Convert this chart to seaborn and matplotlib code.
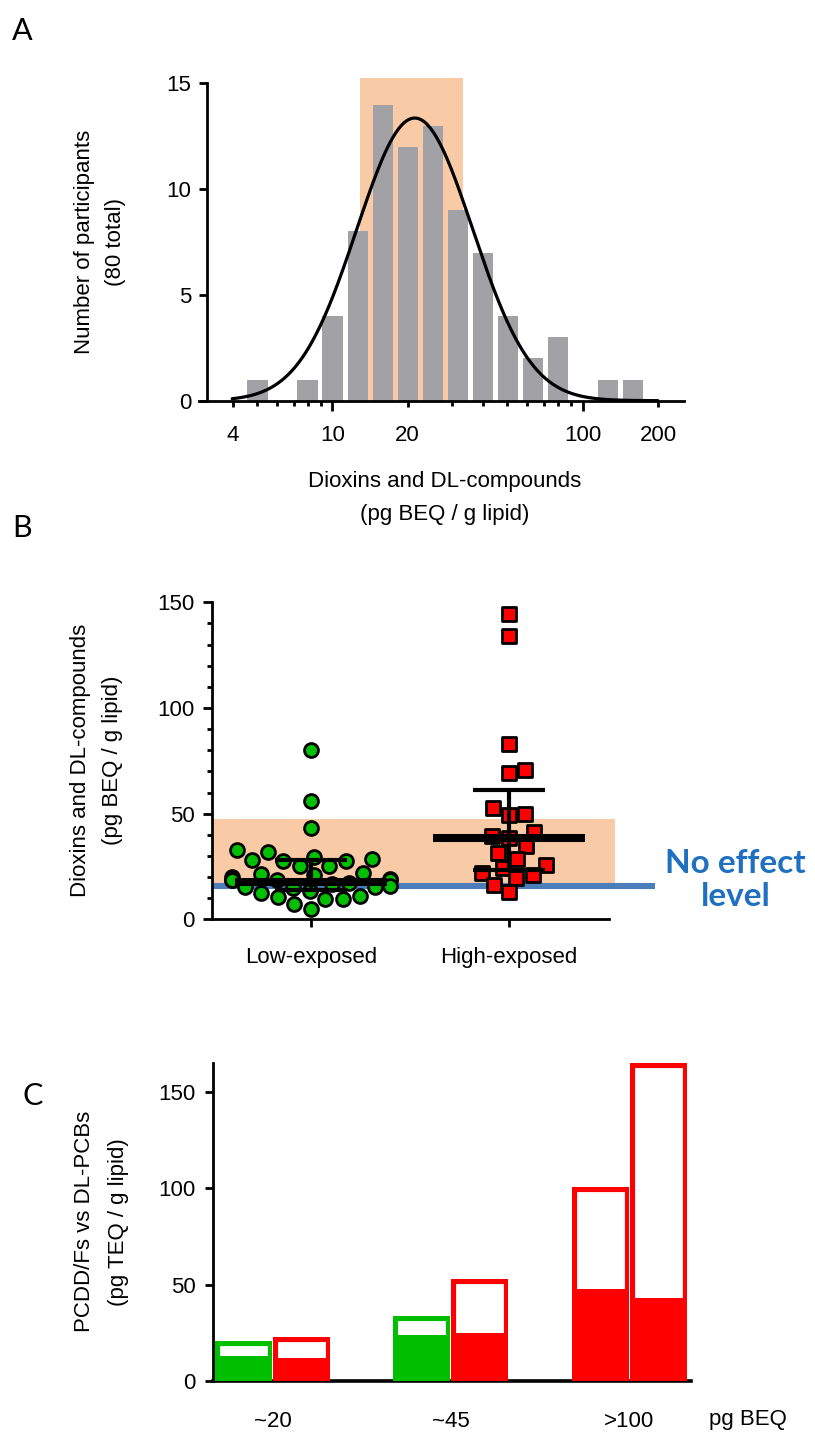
import numpy as np
import pandas as pd
import matplotlib
matplotlib.use("Agg")
import matplotlib.pyplot as plt
import seaborn as sns

# ---------------- data ----------------
# Panel A: histogram of log10 bin centres and counts
bin_centers_log = [0.7, 0.9, 1.0, 1.1, 1.2, 1.3, 1.4, 1.5, 1.6, 1.7, 1.8, 1.9, 2.1, 2.2]
participants = [1, 1, 4, 8, 14, 12, 13, 9, 7, 4, 2, 3, 1, 1]
a_tick_values = [4, 10, 20, 100, 200]
a_tick_labels = ["4", "10", "20", "100", "200"]
a_minor_values = [5, 6, 7, 8, 9, 30, 40, 50, 60, 70, 80, 90]
a_y_ticks = [0, 5, 10, 15]
a_shade_low, a_shade_high, a_shade_top = 12.9, 33.3, 15.26

# Panel B: individual values
groups = ["Low-exposed", "High-exposed"]
low_exposed = [80.0, 56.0, 43.4, 32.6, 32.0, 29.6, 28.7, 28.1, 27.6, 27.7, 25.2, 25.2,
               22.1, 21.3, 21.0, 19.9, 18.9, 18.6, 18.6, 18.6, 18.6, 17.2, 16.8, 15.6,
               15.4, 15.2, 15.0, 13.4, 12.3, 11.0, 10.4, 9.6, 9.6, 7.1, 4.9]
high_exposed = [144.5, 133.9, 83.1, 70.5, 69.2, 52.5, 50.0, 49.2, 41.5, 39.3, 38.3,
                34.7, 31.4, 28.4, 25.6, 24.1, 22.1, 21.0, 19.6, 16.4, 12.8]
b_center = [17.8, 38.5]
b_lower = [14.0, 23.3]
b_upper = [28.2, 61.0]
b_y_ticks = [0, 50, 100, 150]
b_band_low, b_band_high = 15.8, 47.3
no_effect_level = 15.8

# Panel C: stacked-outline bars
c_categories = ["~20", "~45", ">100"]
c_bar = ["first", "second"]
c_total_first = [20.5, 33.5, 100.5]
c_total_second = [22.5, 53.0, 165.0]
c_fill_first = [13.0, 24.0, 47.5]
c_fill_second = [12.0, 25.0, 43.0]
c_y_ticks = [0, 50, 100, 150]

# ---------------- style ----------------
GRAY = "#A2A1A6"
ORANGE = "#F8CBA6"
GREEN = "#00BF00"
RED = "#FF0000"
BLUE = "#4A7DBA"
TEXTBLUE = "#1F70C1"

sns.set_style("ticks")
plt.rcParams["font.family"] = ["Liberation Sans", "DejaVu Sans"]
plt.rcParams["axes.linewidth"] = 2.0
plt.rcParams["xtick.major.width"] = 2.0
plt.rcParams["ytick.major.width"] = 2.0
plt.rcParams["xtick.minor.width"] = 2.0
plt.rcParams["ytick.minor.width"] = 2.0
plt.rcParams["xtick.color"] = "black"
plt.rcParams["ytick.color"] = "black"
plt.rcParams["xtick.labelcolor"] = "black"
plt.rcParams["ytick.labelcolor"] = "black"
plt.rcParams["axes.edgecolor"] = "black"
plt.rcParams["axes.labelcolor"] = "black"
plt.rcParams["text.color"] = "black"

W, H = 815, 1433
FS = 16
fig = plt.figure(figsize=(W / 100, H / 100), dpi=100)


def ax_rect(left, right, top, bottom):
    return [left / W, 1 - bottom / H, (right - left) / W, (bottom - top) / H]


# ---------------- Panel A ----------------
axA = fig.add_axes(ax_rect(199.4, 684.4, 77.0, 400.7))
axA.fill_between([a_shade_low, a_shade_high], 0, a_shade_top, color=ORANGE, lw=0, zorder=0)
sns.histplot(x=10 ** np.array(bin_centers_log), weights=participants, binwidth=0.1,
             binrange=(0.65, 2.25), log_scale=True, shrink=0.81, color=GRAY, alpha=1,
             edgecolor="none", linewidth=0, ax=axA, zorder=2)
# Least-squares Gaussian fit of the histogram counts (in log10 space)
xc = np.array(bin_centers_log)
yc = np.array(participants, dtype=float)
a2, a1, a0 = np.polyfit(xc, np.log(yc), 2, w=yc)
p = np.array([np.exp(a0 - a1 ** 2 / (4 * a2)), -a1 / (2 * a2), np.sqrt(-1 / (2 * a2))])
for _ in range(100):
    amp, mu, sig = p
    e = np.exp(-(xc - mu) ** 2 / (2 * sig ** 2))
    r = yc - amp * e
    J = np.column_stack([e, amp * e * (xc - mu) / sig ** 2, amp * e * (xc - mu) ** 2 / sig ** 3])
    step = np.linalg.lstsq(J, r, rcond=None)[0]
    p = p + step
amp, mu, sig = p
xs = np.linspace(0.6, 2.3, 300)
ys = amp * np.exp(-(xs - mu) ** 2 / (2 * sig ** 2))
sns.lineplot(x=10 ** xs, y=ys, color="black", lw=2.3, ax=axA, zorder=3)

axA.set_xscale("log")
axA.set_xlim(10 ** 0.469, 10 ** 2.406)
axA.set_ylim(0, 15.3)
axA.spines["left"].set_position(("data", 10 ** 0.501))
axA.spines["left"].set_bounds(0, 15)
sns.despine(ax=axA)
axA.set_xticks(a_tick_values)
axA.set_xticklabels(a_tick_labels, fontsize=FS)
axA.set_xticks(a_minor_values, minor=True)
axA.xaxis.set_minor_formatter(matplotlib.ticker.NullFormatter())
axA.tick_params(axis="x", which="major", length=7.2, pad=10, direction="out")
axA.tick_params(axis="x", which="minor", length=3.6, direction="out")
for t, v in zip(axA.xaxis.get_major_ticks(), a_tick_values):
    if v not in (10, 100):
        t.tick1line.set_markersize(4.0)
axA.set_yticks(a_y_ticks)
axA.tick_params(axis="y", length=5.8, pad=6, labelsize=FS)
axA.set_xlabel("Dioxins and DL-compounds\n(pg BEQ / g lipid)", fontsize=FS, linespacing=1.75)
axA.xaxis.set_label_coords((445 - 199.4) / 485, -(471 - 400.7) / 323.7)
axA.set_ylabel("Number of participants\n(80 total)", fontsize=FS, linespacing=1.6)
axA.yaxis.set_label_coords(-(199.4 - 126) / 485, 0.49)

# ---------------- Panel B ----------------
axB = fig.add_axes(ax_rect(212.3, 609.3, 602.3, 919.3))
axB.fill_between([-0.5, 1.54], b_band_low, b_band_high, color=ORANGE, lw=0, zorder=0,
                 clip_on=False)
axB.plot([-0.5, 1.74], [no_effect_level, no_effect_level], color=BLUE, lw=4.4,
         clip_on=False, zorder=1, solid_capstyle="butt")
sns.swarmplot(x=["Low-exposed"] * len(low_exposed), y=low_exposed, order=groups,
              color=GREEN, marker="o", size=10, edgecolor="black", linewidth=2.0,
              ax=axB, zorder=3, clip_on=False)
sns.swarmplot(x=["High-exposed"] * len(high_exposed), y=high_exposed, order=groups,
              color=RED, marker="s", size=9.6, edgecolor="black", linewidth=2.0,
              ax=axB, zorder=3, clip_on=False)
cen = np.array(b_center)
axB.errorbar(x=[0, 1], y=cen, yerr=[cen - np.array(b_lower), np.array(b_upper) - cen],
             fmt="none", ecolor="black", elinewidth=3.0, capsize=26, capthick=3.0, zorder=5)
axB.errorbar(x=[0, 1], y=cen, xerr=0.385, fmt="none", ecolor="black", elinewidth=5.8,
             capsize=0, zorder=5)
axB.set_xlim(-0.5, 1.51)
axB.set_ylim(0, 150)
sns.despine(ax=axB)
axB.set_yticks(b_y_ticks)
axB.set_yticks(np.arange(0, 151, 10), minor=True)
axB.tick_params(axis="y", which="major", length=6.5, pad=6, labelsize=FS)
axB.tick_params(axis="y", which="minor", length=3.6)
axB.tick_params(axis="x", which="major", length=5.8, pad=14, labelsize=FS)
axB.set_xlabel("")
axB.set_ylabel("Dioxins and DL-compounds\n(pg BEQ / g lipid)", fontsize=FS, linespacing=1.7)
axB.yaxis.set_label_coords(-(212.3 - 123) / 397, 0.5)
axB.text(2.15, (b_band_low + 2.8), "No effect\nlevel", color=TEXTBLUE, fontsize=24,
         fontweight="bold", family=["Lato", "DejaVu Sans"], ha="center", va="center",
         linespacing=1.15, clip_on=False)

# ---------------- Panel C ----------------
axC = fig.add_axes(ax_rect(213.2, 691.0, 1062.7, 1380.7))
dfC = pd.DataFrame({
    "category": c_categories * 2,
    "bar": [c_bar[0]] * 3 + [c_bar[1]] * 3,
    "total": c_total_first + c_total_second,
    "fill": c_fill_first + c_fill_second,
})
bar_colors = [GREEN, RED, GREEN, RED, RED, RED]  # left-to-right
n0 = len(axC.patches)
sns.barplot(data=dfC, x="category", y="total", hue="bar", order=c_categories,
            hue_order=c_bar, width=0.65, gap=0.02, palette=["white", "white"],
            legend=False, ax=axC, zorder=2, err_kws={"linewidth": 0})
outline = sorted(axC.patches[n0:], key=lambda p: p.get_x())
for p_, col in zip(outline, bar_colors):
    p_.set_facecolor("white")
    p_.set_edgecolor(col)
    p_.set_linewidth(6.6)
    p_.set_clip_path(p_)
n1 = len(axC.patches)
sns.barplot(data=dfC, x="category", y="fill", hue="bar", order=c_categories,
            hue_order=c_bar, width=0.65, gap=0.02, palette=["white", "white"],
            legend=False, ax=axC, zorder=3, err_kws={"linewidth": 0})
fills = sorted(axC.patches[n1:], key=lambda p: p.get_x())
for p_, col in zip(fills, bar_colors):
    p_.set_facecolor(col)
    p_.set_edgecolor("none")
axC.set_xlim(-0.332, 2.346)
axC.set_ylim(0, 165.4)
sns.despine(ax=axC)
axC.spines["bottom"].set_linewidth(2.6)
axC.set_yticks(c_y_ticks)
axC.tick_params(axis="y", length=5.8, pad=7, labelsize=FS)
axC.tick_params(axis="x", length=0, pad=22, labelsize=FS)
axC.set_xlabel("")
axC.set_ylabel("PCDD/Fs vs DL-PCBs\n(pg TEQ / g lipid)", fontsize=FS, linespacing=1.8)
axC.yaxis.set_label_coords(-(213.2 - 129) / 477.8, 0.5)
fig.text(748 / W, 1 - 1419 / H, "pg BEQ", fontsize=FS, ha="center", va="center")

# ---------------- panel letters ----------------
for letter, x, y in [("A", 22, 31), ("B", 22, 528), ("C", 33, 1096)]:
    fig.text(x / W, 1 - y / H, letter, fontsize=22, family=["Lato", "DejaVu Sans"],
             ha="center", va="center")

fig.savefig("out.png", dpi=100)
